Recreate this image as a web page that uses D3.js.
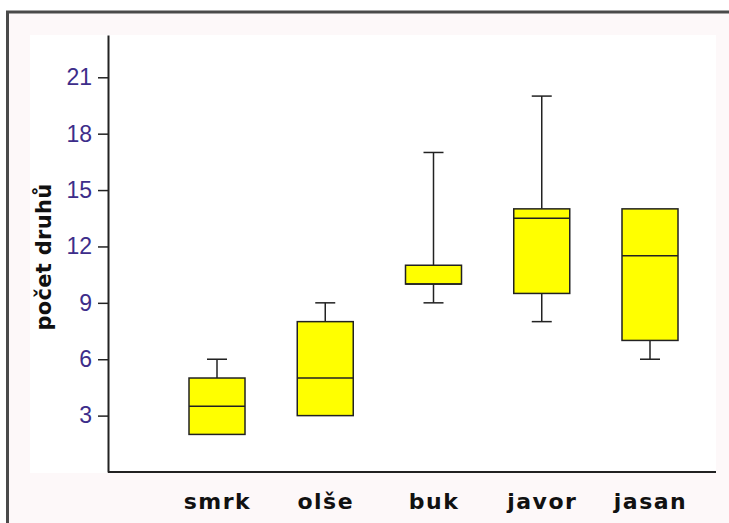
<!DOCTYPE html>
<html>
<head>
<meta charset="utf-8">
<script src="https://cdn.jsdelivr.net/npm/d3@7"></script>
<style>
  body { margin: 0; background: #fff; overflow: hidden; }
  svg { display: block; overflow: hidden; }
</style>
</head>
<body>
<script>
// druhy dřevin a jejich boxploty (min, q1, medián, q3, max)
var categories = ["smrk", "olše", "buk", "javor", "jasan"];
var mins    = [2,   3,  9,  8,    6];
var q1s     = [2,   3, 10,  9.5,  7];
var medians = [3.5, 5, 10, 13.5, 11.5];
var q3s     = [5,   8, 11, 14,   14];
var maxs    = [6,   9, 17, 20,   14];
var yTicks  = [3, 6, 9, 12, 15, 18, 21];
var yLabel  = "počet druhů";

var w = 729, h = 523;

var svg = d3.select("body").append("svg")
    .attr("width", w)
    .attr("height", h);

// pozadí a rámeček (jen horní a levá hrana)
svg.append("rect")
    .attr("x", 7.5).attr("y", 12)
    .attr("width", w - 7.5).attr("height", h - 12)
    .attr("fill", "#fdf8f9");
svg.append("path")
    .attr("d", "M7.5," + h + "V12H" + w)
    .attr("fill", "none")
    .attr("stroke", "#4a4a4a")
    .attr("stroke-width", 3);

svg.append("rect")
    .attr("x", 30).attr("y", 35)
    .attr("width", 686).attr("height", 438)
    .attr("fill", "#fff");

// scales
var y = d3.scaleLinear().domain([0, 23.25]).range([472, 35]);
var x = d3.scalePoint().domain(categories).range([217, 650]);

var boxW = 56, capW = 20;

// y axis
var yAxis = svg.append("g")
    .attr("transform", "translate(108,0)")
    .call(d3.axisLeft(y).tickValues(yTicks).tickSize(10).tickSizeOuter(0));
yAxis.select(".domain").attr("stroke", "#222").attr("stroke-width", 2);
yAxis.selectAll(".tick line").attr("stroke", "#222").attr("stroke-width", 1.5);
yAxis.selectAll(".tick text")
    .attr("x", -16)
    .attr("fill", "#3d2d8a")
    .style("font-family", "'Liberation Sans', Arial, sans-serif")
    .style("font-size", "23px");

// x axis line (bez značek)
svg.append("line")
    .attr("x1", 108).attr("x2", 716)
    .attr("y1", y(0)).attr("y2", y(0))
    .attr("stroke", "#222").attr("stroke-width", 2);

var xAxis = svg.append("g")
    .attr("transform", "translate(0," + y(0) + ")")
    .call(d3.axisBottom(x).tickSize(0));
xAxis.select(".domain").remove();
xAxis.selectAll(".tick text")
    .attr("y", 0)
    .attr("dy", "37px")
    .attr("fill", "#111")
    .style("font-family", "'DejaVu Sans', Verdana, sans-serif")
    .style("font-weight", "bold")
    .style("font-size", "22px")
    .style("letter-spacing", "1.5px");

// y label
svg.append("text")
    .attr("transform", "translate(51," + 257 + ") rotate(-90)")
    .attr("text-anchor", "middle")
    .attr("fill", "#111")
    .style("font-family", "'DejaVu Sans', Verdana, sans-serif")
    .style("font-weight", "bold")
    .style("font-size", "21px")
    .style("letter-spacing", "0.3px")
    .text(yLabel);

// boxploty
var data = categories.map(function(c, i) {
  return {name: c, min: mins[i], q1: q1s[i], med: medians[i], q3: q3s[i], max: maxs[i]};
});

var g = svg.selectAll(".box")
    .data(data)
    .enter().append("g")
    .attr("class", "box");

// whiskers
g.filter(function(d) { return d.max > d.q3; }).append("line")
    .attr("x1", function(d) { return x(d.name); })
    .attr("x2", function(d) { return x(d.name); })
    .attr("y1", function(d) { return y(d.q3); })
    .attr("y2", function(d) { return y(d.max); })
    .attr("stroke", "#222").attr("stroke-width", 1.5);
g.filter(function(d) { return d.max > d.q3; }).append("line")
    .attr("x1", function(d) { return x(d.name) - capW / 2; })
    .attr("x2", function(d) { return x(d.name) + capW / 2; })
    .attr("y1", function(d) { return y(d.max); })
    .attr("y2", function(d) { return y(d.max); })
    .attr("stroke", "#222").attr("stroke-width", 1.5);
g.filter(function(d) { return d.min < d.q1; }).append("line")
    .attr("x1", function(d) { return x(d.name); })
    .attr("x2", function(d) { return x(d.name); })
    .attr("y1", function(d) { return y(d.q1); })
    .attr("y2", function(d) { return y(d.min); })
    .attr("stroke", "#222").attr("stroke-width", 1.5);
g.filter(function(d) { return d.min < d.q1; }).append("line")
    .attr("x1", function(d) { return x(d.name) - capW / 2; })
    .attr("x2", function(d) { return x(d.name) + capW / 2; })
    .attr("y1", function(d) { return y(d.min); })
    .attr("y2", function(d) { return y(d.min); })
    .attr("stroke", "#222").attr("stroke-width", 1.5);

g.append("rect")
    .attr("x", function(d) { return x(d.name) - boxW / 2; })
    .attr("y", function(d) { return y(d.q3); })
    .attr("width", boxW)
    .attr("height", function(d) { return y(d.q1) - y(d.q3); })
    .attr("fill", "#ffff00")
    .attr("stroke", "#222")
    .attr("stroke-width", 1.5);

g.append("line")
    .attr("x1", function(d) { return x(d.name) - boxW / 2; })
    .attr("x2", function(d) { return x(d.name) + boxW / 2; })
    .attr("y1", function(d) { return y(d.med); })
    .attr("y2", function(d) { return y(d.med); })
    .attr("stroke", "#222").attr("stroke-width", 1.5);
</script>
</body>
</html>
